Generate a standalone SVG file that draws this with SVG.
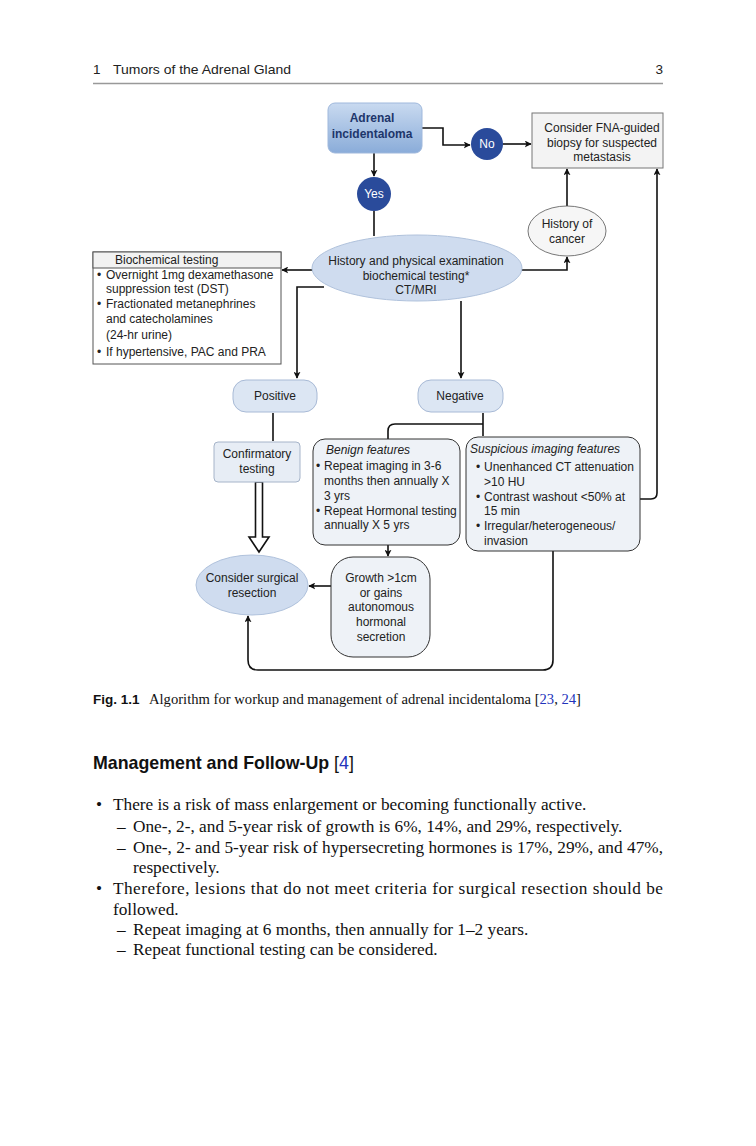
<svg xmlns="http://www.w3.org/2000/svg" width="756" height="1146" viewBox="0 0 756 1146">
<defs>
<linearGradient id="gAdr" x1="0" y1="0" x2="0" y2="1">
<stop offset="0" stop-color="#c9daf0"/>
<stop offset="1" stop-color="#8aacd9"/>
</linearGradient>
<marker id="ah" viewBox="0 0 10 10" refX="9" refY="5" markerWidth="7" markerHeight="7" markerUnits="userSpaceOnUse" orient="auto">
<path d="M0,0 L10,5 L0,10 L2.5,5 z" fill="#111"/>
</marker>
</defs>
<style>
.d{font-family:"Liberation Sans",Arial,sans-serif;font-size:12px;fill:#222}
.c{text-anchor:middle}
.i{font-style:italic}
.ln{fill:none;stroke:#111;stroke-width:1.6}
.pill{fill:#dce6f3;stroke:#a8bad6;stroke-width:1}
.rb{fill:#eef2f7;stroke:#333;stroke-width:1}
.cir{fill:#2a4b9b}
.w{fill:#fff;font-family:"Liberation Sans",Arial,sans-serif;font-size:12px;text-anchor:middle}
.body{font-family:"Liberation Serif","Times New Roman",serif;font-size:17.25px;fill:#111}
.blue{fill:#2233bb}
</style>
<rect width="756" height="1146" fill="#fff"/>
<g id="header">
<text x="93" y="74" font-family="Liberation Sans,Arial,sans-serif" font-size="13.5" fill="#222">1</text>
<text x="113" y="74" font-family="Liberation Sans,Arial,sans-serif" font-size="13.5" fill="#222" textLength="178" lengthAdjust="spacingAndGlyphs">Tumors of the Adrenal Gland</text>
<text x="663" y="74" font-family="Liberation Sans,Arial,sans-serif" font-size="13.5" fill="#222" text-anchor="end">3</text>
<line x1="93" y1="83.5" x2="663" y2="83.5" stroke="#999" stroke-width="1.5"/>
</g>
<g id="connectors">
<path class="ln" d="M422,128 H443 V145 H470" marker-end="url(#ah)"/>
<path class="ln" d="M503,144 H531" marker-end="url(#ah)"/>
<path class="ln" d="M374,153 V176" marker-end="url(#ah)"/>
<path class="ln" d="M374,211 V236"/>
<path class="ln" d="M313,270 H282" marker-end="url(#ah)"/>
<path class="ln" d="M324,287 H297 V378" marker-end="url(#ah)"/>
<path class="ln" d="M461,301 V378" marker-end="url(#ah)"/>
<path class="ln" d="M521,270 H567 V257" marker-end="url(#ah)"/>
<path class="ln" d="M567,206 V169" marker-end="url(#ah)"/>
<path class="ln" d="M640,499 H651 Q657,499 657,493 V169" marker-end="url(#ah)"/>
<path class="ln" d="M273,413 V441"/>
<path class="ln" d="M483,413 V436"/>
<path class="ln" d="M483,424 H395 Q388,424 388,431 V440"/>
<path class="ln" d="M388,545 V556" marker-end="url(#ah)"/>
<path class="ln" d="M331,586 H309" marker-end="url(#ah)"/>
<path class="ln" d="M553,551 V660 Q553,670 543,670 H258 Q248,670 248,660 V616" marker-end="url(#ah)"/>
<path d="M255.5,482 H262.5 V537 H269 L259,552 L249,537 H255.5 Z" fill="#fff" stroke="#111" stroke-width="1.6" stroke-linejoin="miter"/>
</g>
<g id="adrenal">
<rect x="328" y="103" width="94" height="50" rx="7" fill="url(#gAdr)" stroke="#9fb8dc" stroke-width="1"/>
<text class="d c" x="372" y="122" font-weight="bold" style="fill:#1d366b">Adrenal</text>
<text class="d c" x="372" y="138" font-weight="bold" style="fill:#1d366b">incidentaloma</text>
</g>
<g id="no">
<circle class="cir" cx="487" cy="144" r="16"/>
<text class="w" x="487" y="148">No</text>
</g>
<g id="yes">
<circle class="cir" cx="374" cy="194" r="17"/>
<text class="w" x="374" y="198">Yes</text>
</g>
<g id="fna">
<rect x="532" y="113" width="131" height="55" fill="#f3f3f3" stroke="#777" stroke-width="1"/>
<text class="d c" x="602" y="132">Consider FNA-guided</text>
<text class="d c" x="602" y="147">biopsy for suspected</text>
<text class="d c" x="602" y="161">metastasis</text>
</g>
<g id="history-cancer">
<ellipse cx="567" cy="231" rx="39" ry="25" fill="#f6f6f6" stroke="#555" stroke-width="0.8"/>
<text class="d c" x="567" y="228">History of</text>
<text class="d c" x="567" y="243">cancer</text>
</g>
<g id="history-exam">
<ellipse cx="417" cy="268" rx="105" ry="33" fill="#cfdcef" stroke="#b0c2dc" stroke-width="1"/>
<text class="d c" x="416" y="265">History and physical examination</text>
<text class="d c" x="416" y="280">biochemical testing*</text>
<text class="d c" x="416" y="294">CT/MRI</text>
</g>
<g id="biochemical">
<rect x="93" y="252" width="188" height="112" fill="#fff" stroke="#555" stroke-width="1"/>
<rect x="93" y="252" width="188" height="16" fill="#f2f2f2" stroke="#555" stroke-width="1"/>
<text class="d" x="115" y="264">Biochemical testing</text>
<text class="d" x="97" y="279">•</text><text class="d" x="106" y="279">Overnight 1mg dexamethasone</text>
<text class="d" x="106" y="293">suppression test (DST)</text>
<text class="d" x="97" y="308">•</text><text class="d" x="106" y="308">Fractionated metanephrines</text>
<text class="d" x="106" y="323">and catecholamines</text>
<text class="d" x="106" y="339">(24-hr urine)</text>
<text class="d" x="97" y="356">•</text><text class="d" x="106" y="356">If hypertensive, PAC and PRA</text>
</g>
<g id="positive">
<rect class="pill" x="233" y="380" width="84" height="32" rx="13"/>
<text class="d c" x="275" y="400">Positive</text>
</g>
<g id="negative">
<rect class="pill" x="418" y="380" width="85" height="32" rx="13"/>
<text class="d c" x="460" y="400">Negative</text>
</g>
<g id="confirmatory">
<rect x="214" y="442" width="86" height="40" rx="4" fill="#e7edf5" stroke="#a6b4c9" stroke-width="1"/>
<text class="d c" x="257" y="458">Confirmatory</text>
<text class="d c" x="257" y="473">testing</text>
</g>
<g id="benign">
<rect class="rb" x="313" y="439" width="147" height="106" rx="12"/>
<text class="d i" x="326" y="454">Benign features</text>
<text class="d" x="316" y="470">•</text><text class="d" x="324" y="470">Repeat imaging in 3-6</text>
<text class="d" x="324" y="485">months then annually X</text>
<text class="d" x="324" y="500">3 yrs</text>
<text class="d" x="316" y="515">•</text><text class="d" x="324" y="515">Repeat Hormonal testing</text>
<text class="d" x="324" y="529">annually X 5 yrs</text>
</g>
<g id="suspicious">
<rect class="rb" x="466" y="437" width="174" height="114" rx="12"/>
<text class="d i" x="470" y="453">Suspicious imaging features</text>
<text class="d" x="476" y="471">•</text><text class="d" x="484" y="471">Unenhanced CT attenuation</text>
<text class="d" x="484" y="486">&gt;10 HU</text>
<text class="d" x="476" y="501">•</text><text class="d" x="484" y="501">Contrast washout &lt;50% at</text>
<text class="d" x="484" y="515">15 min</text>
<text class="d" x="476" y="530">•</text><text class="d" x="484" y="530">Irregular/heterogeneous/</text>
<text class="d" x="484" y="545">invasion</text>
</g>
<g id="growth">
<rect class="rb" x="331" y="557" width="99" height="100" rx="22"/>
<text class="d c" x="381" y="582">Growth &gt;1cm</text>
<text class="d c" x="381" y="597">or gains</text>
<text class="d c" x="381" y="611">autonomous</text>
<text class="d c" x="381" y="626">hormonal</text>
<text class="d c" x="381" y="641">secretion</text>
</g>
<g id="surgical">
<ellipse cx="252" cy="585" rx="56" ry="30" fill="#cfdcef" stroke="#b0c2dc" stroke-width="1"/>
<text class="d c" x="252" y="582">Consider surgical</text>
<text class="d c" x="252" y="597">resection</text>
</g>
<g id="caption">
<text x="93" y="704" font-family="Liberation Sans,Arial,sans-serif" font-size="13.5" font-weight="bold" fill="#111">Fig. 1.1</text>
<text x="149" y="704" font-family="Liberation Serif,Times New Roman,serif" font-size="14.5" fill="#111" textLength="432" lengthAdjust="spacingAndGlyphs">Algorithm for workup and management of adrenal incidentaloma [<tspan class="blue">23</tspan>, <tspan class="blue">24</tspan>]</text>
</g>
<g id="text-body">
<text x="93" y="769" font-family="Liberation Sans,Arial,sans-serif" font-size="17.8" font-weight="bold" fill="#111">Management and Follow-Up <tspan font-weight="normal">[<tspan class="blue">4</tspan>]</tspan></text>
<text class="body" x="96" y="810">•</text>
<text class="body" x="113" y="810">There is a risk of mass enlargement or becoming functionally active.</text>
<text class="body" x="117" y="832">–</text>
<text class="body" x="133" y="832">One-, 2-, and 5-year risk of growth is 6%, 14%, and 29%, respectively.</text>
<text class="body" x="117" y="853">–</text>
<text class="body" x="133" y="853" textLength="530" lengthAdjust="spacing">One-, 2- and 5-year risk of hypersecreting hormones is 17%, 29%, and 47%,</text>
<text class="body" x="133" y="873">respectively.</text>
<text class="body" x="96" y="894">•</text>
<text class="body" x="113" y="894" textLength="550" lengthAdjust="spacing">Therefore, lesions that do not meet criteria for surgical resection should be</text>
<text class="body" x="113" y="915">followed.</text>
<text class="body" x="117" y="935">–</text>
<text class="body" x="133" y="935">Repeat imaging at 6 months, then annually for 1–2 years.</text>
<text class="body" x="117" y="955">–</text>
<text class="body" x="133" y="955">Repeat functional testing can be considered.</text>
</g>
</svg>
